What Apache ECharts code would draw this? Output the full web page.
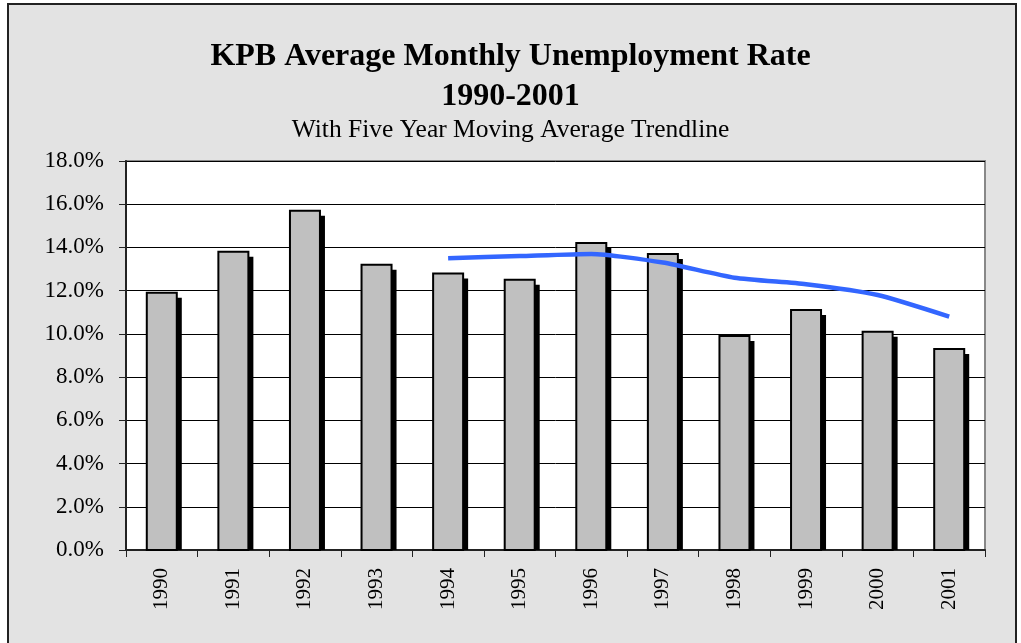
<!DOCTYPE html>
<html>
<head>
<meta charset="utf-8">
<script src="https://cdn.jsdelivr.net/npm/echarts@6/dist/echarts.min.js"></script>
<style>
html,body{margin:0;padding:0;background:#ffffff;}
#frame{position:absolute;left:7px;top:3px;width:1006px;height:700px;border:2px solid #222;background:#e3e3e3;}
#chart{position:absolute;left:0;top:0;width:1021px;height:643px;}
</style>
</head>
<body>
<div id="frame"></div>
<div id="chart"></div>
<script>
var years = ['1990','1991','1992','1993','1994','1995','1996','1997','1998','1999','2000','2001'];
var rates = [11.9, 13.8, 15.7, 13.2, 12.8, 12.5, 14.2, 13.7, 9.9, 11.1, 10.1, 9.3];
var movingAvg = [null, null, null, null, 13.5, 13.6, 13.7, 13.3, 12.6, 12.3, 11.8, 10.8];
var yTicks = [0, 2, 4, 6, 8, 10, 12, 14, 16, 18];

var chart = echarts.init(document.getElementById('chart'), null, {renderer:'canvas'});
var serif = '"Liberation Serif", "Times New Roman", serif';
var barData = rates.map(function(v, i){ return [i, v]; });

function renderBar(params, api) {
  var top = api.coord([api.value(0), api.value(1)]);
  var base = api.coord([api.value(0), 0]);
  var w = 30, off = 5;
  var h = base[1] - top[1];
  return {
    type: 'group',
    children: [
      {type: 'rect', shape: {x: top[0] - w/2 + off, y: top[1] + off, width: w, height: Math.max(0, h - off)},
       style: {fill: '#000'}},
      {type: 'rect', shape: {x: top[0] - w/2, y: top[1], width: w, height: h},
       style: {fill: '#c0c0c0', stroke: '#000', lineWidth: 2}}
    ]
  };
}

chart.setOption({
  animation: false,
  backgroundColor: 'transparent',
  title: [
    {text: 'KPB Average Monthly Unemployment Rate\n1990-2001', left: 'center', top: 32,
     textStyle: {fontFamily: serif, fontWeight: 'bold', fontSize: 32, color: '#000', lineHeight: 40}},
    {text: 'With Five Year Moving Average Trendline', left: 'center', top: 112,
     textStyle: {fontFamily: serif, fontWeight: 'normal', fontSize: 25.5, color: '#000', lineHeight: 26}}
  ],
  grid: {left: 126, right: 36, top: 161, bottom: 93, show: true, backgroundColor: '#ffffff', borderColor: '#888', borderWidth: 2},
  xAxis: {
    type: 'category', data: years, boundaryGap: true,
    axisLine: {lineStyle: {color: '#222', width: 2}},
    axisTick: {show: true, length: 7, lineStyle: {color: '#222', width: 1}},
    axisLabel: {rotate: 90, margin: 18, fontFamily: serif, fontSize: 21, color: '#000'}
  },
  yAxis: {
    type: 'value', min: yTicks[0], max: yTicks[yTicks.length-1], interval: 2,
    axisLine: {show: true, lineStyle: {color: '#222', width: 2}},
    axisTick: {show: true, length: 7, lineStyle: {color: '#222', width: 1}},
    splitLine: {show: true, lineStyle: {color: '#000', width: 1}},
    axisLabel: {margin: 22, fontFamily: serif, fontSize: 23, color: '#000',
      formatter: function(v){ return v.toFixed(1) + '%'; }}
  },
  series: [
    {type: 'custom', data: barData, renderItem: renderBar, encode: {x: 0, y: 1}, z: 3},
    {type: 'line', data: movingAvg, smooth: 0.2, showSymbol: false, symbol: 'none',
     lineStyle: {color: '#3366ff', width: 4.5}, z: 5}
  ]
});
</script>
</body>
</html>
